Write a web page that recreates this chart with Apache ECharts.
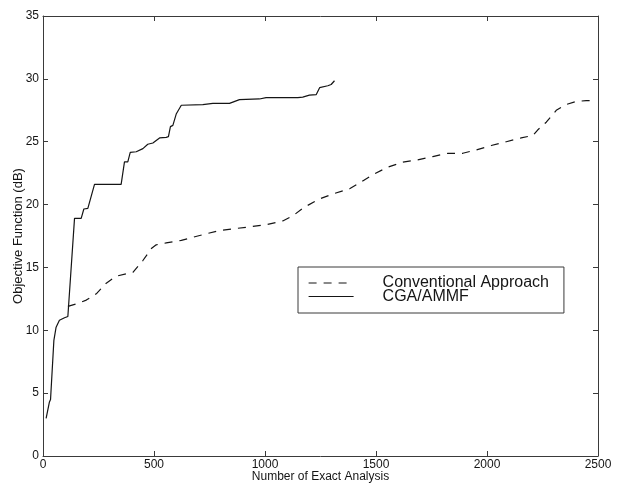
<!DOCTYPE html>
<html>
<head>
<meta charset="utf-8">
<style>
  html, body { margin: 0; padding: 0; background: #fff; overflow: hidden; }
  #main { width: 619px; height: 488px; }
</style>
<script src="https://cdn.jsdelivr.net/npm/echarts@6/dist/echarts.min.js"></script>
</head>
<body>
<div id="main"></div>
<script>
// values
const seriesNames = ['Conventional Approach', 'CGA/AMMF'];

const convX = [112, 150, 195, 240, 285, 330, 375, 405, 450, 488, 510, 555, 623, 675, 795, 945,
  1005, 1080, 1125, 1178, 1246, 1306, 1381, 1433, 1493, 1553, 1621, 1688, 1756, 1824, 1891,
  1952, 2019, 2087, 2154, 2207, 2229, 2267, 2312, 2357, 2402, 2447, 2480];
const convY = [11.9, 12.1, 12.4, 12.9, 13.75, 14.3, 14.5, 14.6, 15.55, 16.5, 16.8, 16.95, 17.15, 17.4, 17.94, 18.26,
  18.4, 18.7, 19.1, 19.8, 20.45, 20.85, 21.25, 21.8, 22.45, 22.97, 23.37, 23.56, 23.82, 24.08, 24.08,
  24.35, 24.7, 25.0, 25.3, 25.5, 25.95, 26.55, 27.5, 27.96, 28.2, 28.27, 28.25];

const cgaX = [14, 29, 34, 49, 59, 74, 97, 112, 116, 142, 172, 184, 202, 232, 352, 367, 382, 393,
  420, 450, 472, 495, 525, 555, 565, 574, 585, 600, 623, 720, 765, 840, 885, 975, 1005, 1148,
  1170, 1200, 1231, 1246, 1283, 1298, 1313];
const cgaY = [3.0, 4.3, 4.5, 9.2, 10.25, 10.8, 11.0, 11.1, 11.2, 18.9, 18.9, 19.65, 19.7, 21.6, 21.6, 23.4, 23.4, 24.15,
  24.2, 24.45, 24.8, 24.9, 25.3, 25.35, 25.4, 26.2, 26.3, 27.2, 27.9, 27.95, 28.05, 28.05, 28.35, 28.4, 28.5, 28.5,
  28.55, 28.7, 28.75, 29.3, 29.45, 29.55, 29.85];

const xTicks = [0, 500, 1000, 1500, 2000, 2500];
const yTicks = [0, 5, 10, 15, 20, 25, 30, 35];

function pairs(xs, ys) { return xs.map(function (x, i) { return [x, ys[i]]; }); }

const font = '"Liberation Sans", Arial, sans-serif';
const ink = '#151515';
const frame = '#3a3a3a';

const chart = echarts.init(document.getElementById('main'), null, { renderer: 'canvas' });

function xAxisCfg(pos, withLabels) {
  return {
    type: 'value', position: pos, min: xTicks[0], max: xTicks[xTicks.length - 1], interval: 500,
    splitLine: { show: false },
    axisLine: { show: true, onZero: false, lineStyle: { color: frame, width: 1 } },
    axisTick: { show: true, inside: true, length: 5, lineStyle: { color: frame } },
    axisLabel: {
      show: withLabels, margin: 3, fontSize: 12, fontFamily: font, color: ink,
      formatter: function (v) { return String(v); }
    },
    name: withLabels ? 'Number of Exact Analysis' : '',
    nameLocation: 'middle', nameGap: 15, nameMoveOverlap: false,
    nameTextStyle: { fontSize: 12, fontFamily: font, color: ink }
  };
}
function yAxisCfg(pos, withLabels) {
  return {
    type: 'value', position: pos, min: yTicks[0], max: yTicks[yTicks.length - 1], interval: 5,
    splitLine: { show: false },
    axisLine: { show: true, onZero: false, lineStyle: { color: frame, width: 1 } },
    axisTick: { show: true, inside: true, length: 5, lineStyle: { color: frame } },
    axisLabel: {
      show: withLabels, margin: 4, fontSize: 12, fontFamily: font, color: ink,
      formatter: function (v) { return String(v); }
    },
    name: withLabels ? 'Objective Function (dB)' : '',
    nameLocation: 'middle', nameGap: 18, nameMoveOverlap: false,
    nameTextStyle: { fontSize: 13, fontFamily: font, color: ink }
  };
}

chart.setOption({
  backgroundColor: '#fff',
  animation: false,
  grid: { left: 43, right: 21, top: 16, bottom: 32, containLabel: false, outerBoundsMode: 'none' },
  legend: {
    orient: 'vertical', left: 298, top: 267,
    data: seriesNames,
    itemWidth: 45, itemHeight: 13, itemGap: -2.5,
    padding: [8, 15, 8.5, 10],
    borderColor: frame, borderWidth: 1, backgroundColor: '#fff',
    itemStyle: { opacity: 0 },
    lineStyle: { width: 1.2 },
    textStyle: { fontSize: 16, fontFamily: font, color: ink, padding: [0, 0, 0, 24] }
  },
  xAxis: [xAxisCfg('bottom', true), xAxisCfg('top', false)],
  yAxis: [yAxisCfg('left', true), yAxisCfg('right', false)],
  series: [
    {
      name: seriesNames[0], type: 'line', symbol: 'none', data: pairs(convX, convY),
      lineStyle: { color: ink, width: 1.2, type: [8, 7] }, itemStyle: { color: ink }
    },
    {
      name: seriesNames[1], type: 'line', symbol: 'none', data: pairs(cgaX, cgaY),
      lineStyle: { color: ink, width: 1.2, type: 'solid' }, itemStyle: { color: ink }
    }
  ]
});
</script>
</body>
</html>
